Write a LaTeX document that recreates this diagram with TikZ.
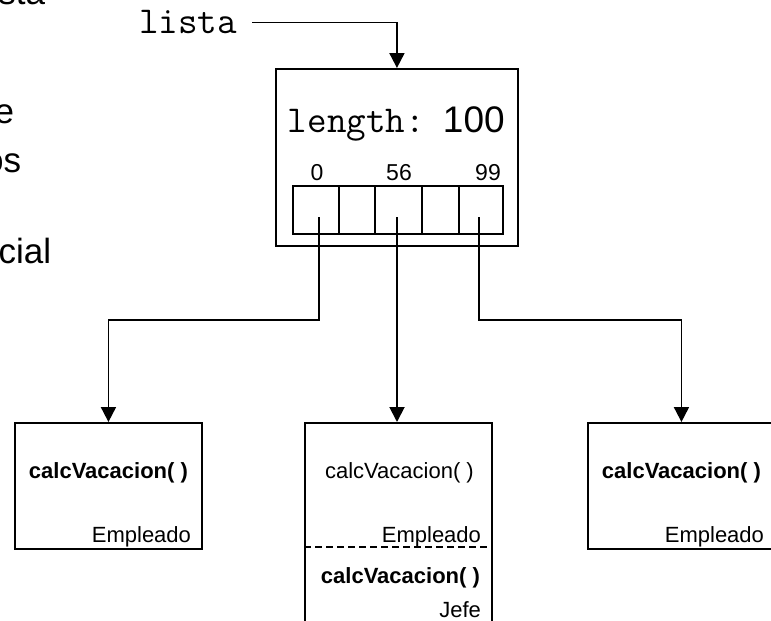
\documentclass[tikz,border=0pt]{standalone}
\usepackage{fontspec}
\setmainfont{Liberation Sans}
\setsansfont{Liberation Sans}
\usetikzlibrary{arrows.meta,calc,positioning}

\newcommand{\fsz}[1]{\fontsize{#1}{#1}\selectfont}

\begin{document}
\begin{tikzpicture}[x=1pt, y=-1pt, line width=1.9pt,
  ptr/.style={-{Triangle[length=15pt, width=15pt]}},
  objbox/.style={draw, anchor=north west, minimum width=187pt, inner sep=0pt},
  cell/.style={draw, anchor=north west, minimum height=48pt, inner sep=0pt},
  lbl/.style={inner sep=0pt, anchor=base}]
  \useasboundingbox (0,0) rectangle (771,621);
  \clip (0,0) rectangle (771,621);

  % slide text running off the left edge
  \node[lbl, anchor=base east, font=\fsz{35}] (t1) at (46,5) {sta};
  \node[lbl, anchor=base east, font=\fsz{35}] (t2) at (15,123) {e};
  \node[lbl, anchor=base east, font=\fsz{35}] (t3) at (22,172) {os};
  \node[lbl, anchor=base east, font=\fsz{35}] (t4) at (52,263) {cial};

  % helper rows
  \coordinate (split) at (0,320);
  \coordinate (mrow) at (0,478);
  \coordinate (erow) at (0,542);
  \coordinate (dash) at (0,547);
  \coordinate (jrow) at (0,583);
  \coordinate (jefe) at (0,617);

  % the array object
  \node[draw, anchor=north west, minimum width=242pt, minimum height=177pt] (arr) at (275,68) {};
  \node[lbl, anchor=base west, font=\ttfamily\fsz{38}] (lenk) at (287,132) {length:};
  \node[lbl, anchor=base west, font=\fsz{37}] (lenv) at (442,132) {100};
  \foreach \l/\r [count=\i from 0] in {292/338, 338/374, 374/421, 421/458, 458/502}
    \node[cell, minimum width={(\r-\l)*1pt}] (c\i) at (\l,185) {};
  \node[lbl, font=\fsz{23}] (i0) at (317,180) {0};
  \node[lbl, font=\fsz{23}] (i2) at (399,180) {56};
  \node[lbl, font=\fsz{23}] (i4) at (488,180) {99};
  \coordinate (p0) at (319,217);
  \coordinate (p2) at (397,217);
  \coordinate (p4) at (479,217);

  \node[lbl, anchor=base east, font=\ttfamily\fsz{38}] (lista) at (238,33) {lista};
  \draw[ptr] ([xshift=14pt, yshift=-1pt]lista.east) -| (arr.north);

  % the three objects
  \node[objbox, minimum height=126pt] (emp1) at (14,422) {};
  \node[objbox, minimum height=230pt] (emp2) at (304,422) {};
  \node[objbox, minimum height=126pt] (emp3) at (587,422) {};

  \node[lbl, font=\bfseries\fsz{22}] (m1) at (emp1.center |- mrow) {calcVacacion( )};
  \node[lbl, anchor=base east, font=\fsz{22}] (e1) at ($(emp1.east |- erow)+(-11,0)$) {Empleado};

  \node[lbl, font=\fsz{22}] (m2) at ($(emp2.center |- mrow)+(1,0)$) {calcVacacion( )};
  \node[lbl, anchor=base east, font=\fsz{22}] (e2) at ($(emp2.east |- erow)+(-11,0)$) {Empleado};
  \draw[dash pattern=on 7pt off 4pt] (emp2.west |- dash) -- (emp2.east |- dash);
  \node[lbl, font=\bfseries\fsz{22}] (m2b) at ($(emp2.center |- jrow)+(2,0)$) {calcVacacion( )};
  \node[lbl, anchor=base east, font=\fsz{22}] (j2) at ($(emp2.east |- jefe)+(-11,0)$) {Jefe};

  \node[lbl, font=\bfseries\fsz{22}] (m3) at (emp3.center |- mrow) {calcVacacion( )};
  \node[lbl, anchor=base east, font=\fsz{22}] (e3) at ($(emp3.east |- erow)+(-11,0)$) {Empleado};

  % references held in the slots
  \draw[ptr] (p0) -- (p0 |- split) -| (emp1.north);
  \draw[ptr] (p2) -- (p2 |- emp2.north);
  \draw[ptr] (p4) -- (p4 |- split) -| (emp3.north);
\end{tikzpicture}
\end{document}
